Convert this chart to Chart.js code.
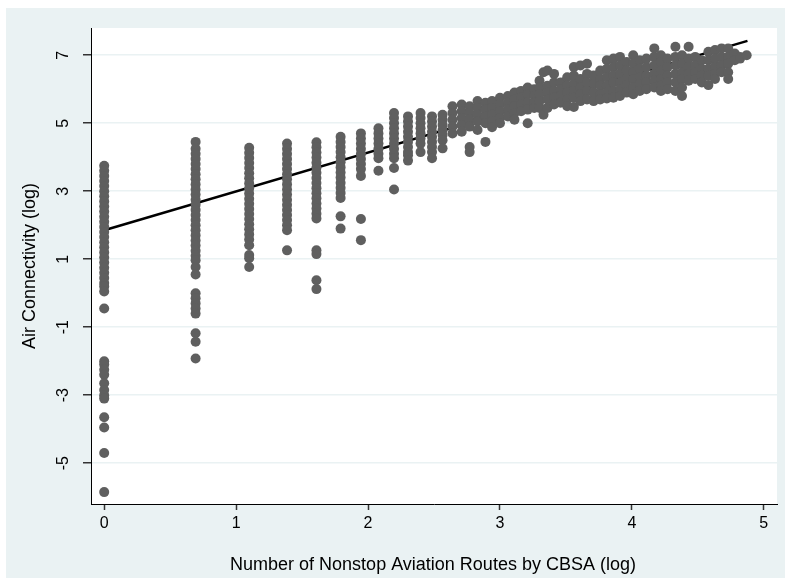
<!DOCTYPE html>
<html>
<head>
<meta charset="utf-8">
<script src="https://cdn.jsdelivr.net/npm/chart.js@4.4.1/dist/chart.umd.min.js"></script>
<style>
  html, body { margin: 0; padding: 0; background: #fff; }
  #wrap { width: 785px; height: 578px; position: relative; }
</style>
</head>
<body>
<div id="wrap"><canvas id="chart" width="785" height="578"></canvas></div>
<script>
// tick labels
const xTicks = [0, 1, 2, 3, 4, 5];
const yTicks = [-5, -3, -1, 1, 3, 5, 7];

// discrete columns on the left: x = log(routes), ys = air connectivity (log)
const colX = [0, 0.693, 1.099, 1.386, 1.609, 1.792, 1.946, 2.079, 2.197, 2.303, 2.398, 2.485, 2.565];
const colY = [
  [3.75, 3.6, 3.45, 3.3, 3.15, 3.0, 2.85, 2.7, 2.55, 2.4, 2.25, 2.1, 1.95, 1.8, 1.65, 1.5, 1.35, 1.2, 1.05, 0.9, 0.75, 0.6, 0.45, 0.3, 0.2, 0.05, -0.45,
   -2.0, -2.1, -2.25, -2.4, -2.65, -2.85, -3.0, -3.1, -3.65, -3.95, -4.7, -5.85],
  [4.45, 4.25, 4.1, 3.95, 3.8, 3.65, 3.5, 3.35, 3.2, 3.05, 2.9, 2.75, 2.6, 2.45, 2.3, 2.15, 2.0, 1.85, 1.7, 1.55, 1.4, 1.25, 1.1, 0.97, 0.77, 0.55,
   0.0, -0.15, -0.3, -0.45, -0.6, -1.18, -1.43, -1.92],
  [4.28, 4.13, 3.98, 3.83, 3.68, 3.53, 3.38, 3.23, 3.08, 2.93, 2.78, 2.63, 2.48, 2.33, 2.18, 2.03, 1.88, 1.73, 1.58, 1.41, 1.12, 1.03, 0.77],
  [4.4, 4.25, 4.1, 3.95, 3.8, 3.65, 3.5, 3.35, 3.2, 3.05, 2.9, 2.75, 2.6, 2.45, 2.3, 2.15, 2.0, 1.85, 1.26],
  [4.44, 4.29, 4.14, 3.99, 3.84, 3.69, 3.54, 3.39, 3.24, 3.09, 2.94, 2.79, 2.64, 2.49, 2.34, 2.2, 1.26, 1.15, 0.38, 0.12],
  [4.6, 4.45, 4.3, 4.15, 4.0, 3.85, 3.7, 3.55, 3.4, 3.25, 3.1, 2.95, 2.8, 2.26, 1.9],
  [4.7, 4.55, 4.4, 4.25, 4.1, 3.95, 3.8, 3.65, 3.45, 2.18, 1.56],
  [4.85, 4.7, 4.55, 4.4, 4.25, 4.1, 3.97, 3.6],
  [5.3, 5.15, 5.0, 4.85, 4.7, 4.55, 4.4, 4.25, 4.1, 3.97, 3.68, 3.05],
  [5.2, 5.05, 4.9, 4.75, 4.6, 4.45, 4.3, 4.15, 4.06, 3.9],
  [5.3, 5.15, 5.0, 4.85, 4.7, 4.55, 4.4, 4.15],
  [5.2, 5.05, 4.9, 4.75, 4.6, 4.45, 4.3, 4.15, 3.97],
  [5.25, 5.1, 4.95, 4.8, 4.65, 4.5, 4.26]
];

// dense band on the right, read as narrow strips
const bandX = [2.64, 2.71, 2.77, 2.83, 2.89, 2.94, 3.0, 3.06, 3.11, 3.16, 3.21, 3.26, 3.3, 3.33, 3.36, 3.41, 3.46, 3.51,
  3.56, 3.61, 3.66, 3.71, 3.76, 3.81, 3.86, 3.91, 3.96, 4.01, 4.06, 4.11, 4.17, 4.22, 4.27, 4.33, 4.38, 4.43, 4.48, 4.53,
  4.58, 4.63, 4.68, 4.73, 4.78, 4.82, 4.87];
const bandY = [
  [5.5, 5.3, 5.1, 4.9, 4.7],
  [5.55, 5.35, 5.15, 4.95, 4.75],
  [5.5, 5.3, 5.1, 4.9, 4.3, 4.15],
  [5.65, 5.45, 5.25, 5.05, 4.8],
  [5.6, 5.4, 5.2, 5.0, 4.45],
  [5.65, 5.45, 5.25, 5.05, 4.88],
  [5.75, 5.55, 5.35, 5.15, 5.0],
  [5.8, 5.6, 5.4, 5.2],
  [5.9, 5.7, 5.5, 5.3, 5.1],
  [5.95, 5.75, 5.55, 5.35],
  [6.05, 5.85, 5.6, 5.4, 5.0],
  [6.0, 5.8, 5.6, 5.45],
  [6.25, 6.05, 5.85, 5.65, 5.45],
  [6.5, 5.25],
  [6.55, 6.1, 5.9, 5.7, 5.45],
  [6.45, 6.2, 5.95, 5.75, 5.55],
  [6.2, 6.0, 5.8, 5.6],
  [6.35, 6.1, 5.9, 5.7, 5.5],
  [6.65, 6.4, 6.15, 5.95, 5.75, 5.48],
  [6.7, 6.3, 6.05, 5.85, 5.65],
  [6.75, 6.45, 6.2, 5.95, 5.7],
  [6.4, 6.15, 5.9, 5.65],
  [6.55, 6.3, 6.1, 5.85, 5.7],
  [6.85, 6.6, 6.35, 6.1, 5.9, 5.73],
  [6.9, 6.65, 6.4, 6.2, 5.95, 5.75],
  [6.95, 6.7, 6.45, 6.2, 6.0, 5.8],
  [6.8, 6.55, 6.3, 6.1, 5.9],
  [7.0, 6.75, 6.5, 6.3, 6.05, 5.85],
  [6.85, 6.6, 6.35, 6.15, 5.95],
  [6.9, 6.65, 6.4, 6.2, 6.0],
  [7.2, 6.95, 6.7, 6.45, 6.25, 6.05],
  [7.0, 6.8, 6.55, 6.3, 6.1, 5.95],
  [6.9, 6.65, 6.4, 6.2, 6.0],
  [7.25, 6.95, 6.7, 6.45, 6.2, 5.95],
  [7.0, 6.75, 6.5, 6.3, 6.05, 5.8],
  [7.25, 6.9, 6.65, 6.45, 6.25],
  [6.95, 6.7, 6.5, 6.3],
  [6.85, 6.6, 6.4, 6.2],
  [7.1, 6.85, 6.6, 6.4, 6.12],
  [7.15, 6.9, 6.65, 6.45, 6.3],
  [7.2, 6.95, 6.7, 6.5],
  [7.2, 6.95, 6.75, 6.5, 6.3],
  [7.05, 6.85],
  [6.95, 6.9],
  [7.0]
];

// fitted line end points
const fitX = [0, 4.876];
const fitY = [1.85, 7.42];

function toPoints(xs, ys) {
  const pts = [];
  xs.forEach((x, i) => ys[i].forEach(y => pts.push({ x: x, y: y })));
  return pts;
}

const scatterPoints = toPoints(colX, colY).concat(toPoints(bandX, bandY));
const fitPoints = fitX.map((x, i) => ({ x: x, y: fitY[i] }));

const font = '"Liberation Sans", Arial, Helvetica, sans-serif';

// backgrounds and text drawn around the chart area
const stataLook = {
  id: 'stataLook',
  beforeDraw(chart) {
    const ctx = chart.ctx;
    const a = chart.chartArea;
    ctx.save();
    ctx.fillStyle = '#eaf2f3';
    ctx.fillRect(6, 8, chart.width - 6, chart.height - 8);
    ctx.fillStyle = '#ffffff';
    ctx.fillRect(a.left, a.top, a.right - a.left, a.bottom - a.top);
    ctx.restore();
  },
  afterDraw(chart) {
    const ctx = chart.ctx;
    const a = chart.chartArea;
    const ys = chart.scales.y;
    ctx.save();
    ctx.fillStyle = '#000';
    ctx.font = '16px ' + font;
    ctx.textAlign = 'center';
    ctx.textBaseline = 'alphabetic';
    ys.ticks.forEach(t => {
      ctx.save();
      ctx.translate(68, ys.getPixelForValue(t.value));
      ctx.rotate(-Math.PI / 2);
      ctx.fillText(String(t.value), 0, 0);
      ctx.restore();
    });
    ctx.font = '18px ' + font;
    ctx.save();
    ctx.translate(35, (a.top + a.bottom) / 2);
    ctx.rotate(-Math.PI / 2);
    ctx.fillText('Air Connectivity (log)', 0, 0);
    ctx.restore();
    ctx.fillText('Number of Nonstop Aviation Routes by CBSA (log)', (a.left + a.right) / 2 - 1, 570);
    ctx.restore();
  }
};

new Chart(document.getElementById('chart'), {
  type: 'scatter',
  data: {
    datasets: [
      {
        data: scatterPoints,
        backgroundColor: '#5f5f5f',
        borderWidth: 0,
        pointRadius: 5,
        pointHoverRadius: 5
      },
      {
        type: 'line',
        data: fitPoints,
        borderColor: '#000',
        borderWidth: 2.5,
        pointRadius: 0,
        fill: false
      }
    ]
  },
  plugins: [stataLook],
  options: {
    responsive: false,
    animation: false,
    layout: { padding: { left: 0, top: 28, right: 8, bottom: 0 } },
    plugins: { legend: { display: false }, tooltip: { enabled: false } },
    scales: {
      x: {
        type: 'linear',
        min: -0.1,
        max: 5.1,
        afterBuildTicks: s => { s.ticks = xTicks.map(v => ({ value: v })); },
        afterFit: s => { s.height = 74; },
        grid: { drawOnChartArea: false, tickLength: 6, tickColor: '#333', tickWidth: 1.5 },
        border: { color: '#000', width: 1 },
        ticks: { color: '#000', font: { size: 16, family: font }, padding: 4, maxRotation: 0 }
      },
      y: {
        type: 'linear',
        min: -6.2,
        max: 7.8,
        afterBuildTicks: s => { s.ticks = yTicks.map(v => ({ value: v })); },
        afterFit: s => { s.width = 91; },
        grid: { color: '#eaf2f3', lineWidth: 1.5, tickLength: 8, tickColor: '#333', tickWidth: 1.5 },
        border: { color: '#000', width: 1 },
        ticks: { display: false }
      }
    }
  }
});
</script>
</body>
</html>
